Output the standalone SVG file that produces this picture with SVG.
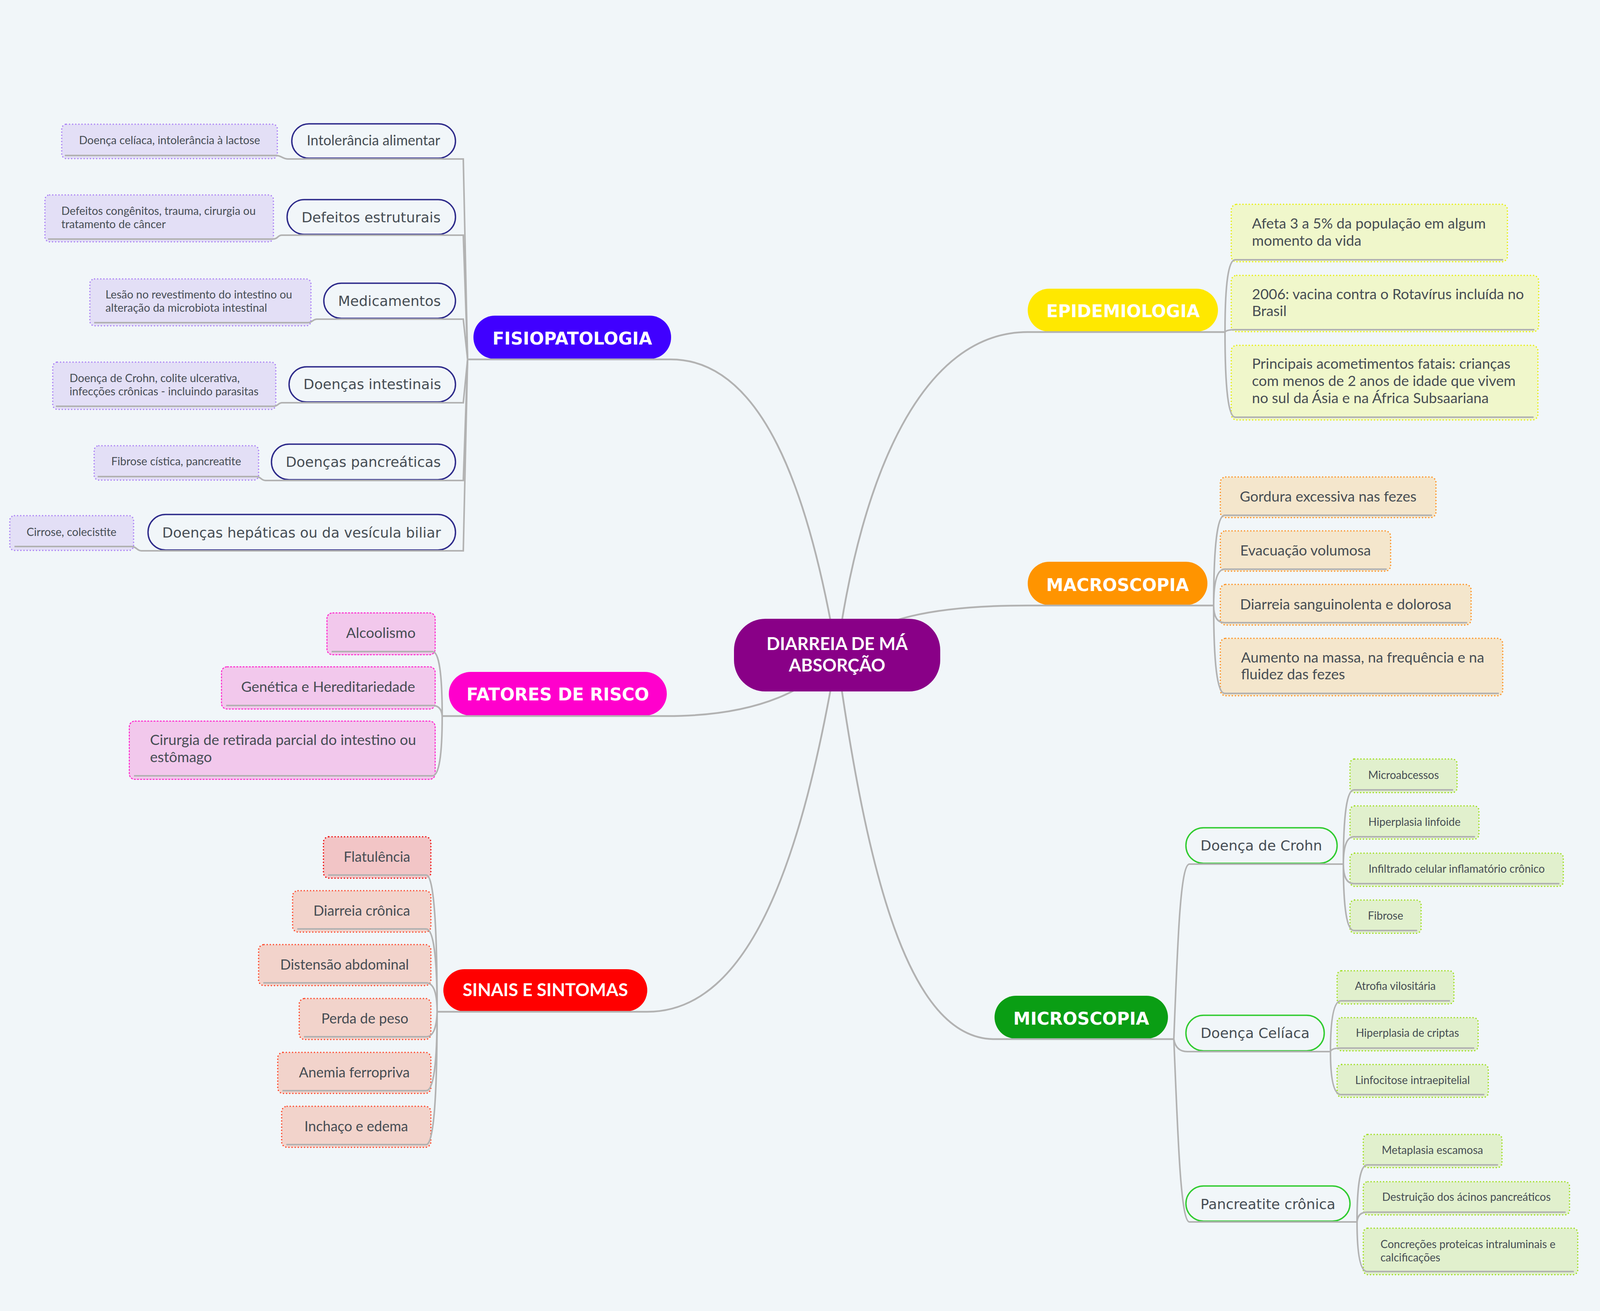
<svg xmlns="http://www.w3.org/2000/svg" width="4288" height="3356" viewBox="0 0 4288 3356">
<style>
.t{font-family:Lato,"Liberation Sans",sans-serif;fill:#464d54}
.dv{font-family:"DejaVu Sans","Liberation Sans",sans-serif;fill:#464d54}
.mt{font-family:"DejaVu Sans","Liberation Sans",sans-serif;font-weight:bold;font-size:44px;fill:#ffffff;text-anchor:middle}
.mt2{font-family:Lato,"Liberation Sans",sans-serif;font-weight:bold;font-size:45px;fill:#ffffff;text-anchor:middle}
.c{text-anchor:middle}
.n27{font-size:28.5px}.n28{font-size:28px}.n36{font-size:36px}.n37{font-size:37px}.n35{font-size:36px}
.fs{fill:#f1f6f9;stroke:#2d2a8a;stroke-width:3.5}
.ms{fill:#f1f6f9;stroke:#2fcb2f;stroke-width:3.5}
.dot{stroke-dasharray:0 8;stroke-linecap:round;stroke-width:3.5}
.note{fill:#e3dff6;stroke:#a77bf5}
.epi{fill:#f0f7cb;stroke:#e6ee00}
.mac{fill:#f4e6cc;stroke:#ff8a14}
.mic{fill:#e1f0cd;stroke:#99dd11}
.sin{fill:#f2d3cb;stroke:#ff3d1f}
.flat{fill:#f2c5c6;stroke:#ee0000}
.fat{fill:#f2c8ec;stroke:#ff22cc;stroke-width:2.5;stroke-dasharray:5 3}
.cn{fill:none;stroke:#b2b2b2;stroke-width:4}
.cm{fill:none;stroke:#b2b2b2;stroke-width:4.5}
</style>
<rect width="4288" height="3356" fill="#f1f6f9"/>

<!-- main topics -->
<g id="fisiopatologia"><rect x="1212" y="808" width="506" height="111" rx="55" fill="#4000ff"/><text class="mt" x="1465" y="882">FISIOPATOLOGIA</text></g>
<g id="epidemiologia"><rect x="2631" y="739" width="487" height="110" rx="55" fill="#ffe800"/><text class="mt" x="2875" y="812">EPIDEMIOLOGIA</text></g>
<g id="macroscopia"><rect x="2631" y="1438" width="460" height="111" rx="55" fill="#ff9400"/><text class="mt" x="2861" y="1513">MACROSCOPIA</text></g>
<g id="microscopia"><rect x="2546" y="2549" width="444" height="110" rx="55" fill="#0a9e14"/><text class="mt" x="2768" y="2623">MICROSCOPIA</text></g>
<g id="sinais"><rect x="1135" y="2481" width="522" height="108" rx="54" fill="#ff0000"/><text class="mt2" x="1396" y="2550">SINAIS E SINTOMAS</text></g>
<g id="fatores"><rect x="1149" y="1720" width="558" height="112" rx="56" fill="#ff00cc"/><text class="mt" x="1428" y="1793">FATORES DE RISCO</text></g>

<!-- fisiopatologia subtopics -->
<g id="f1"><rect class="fs" x="747" y="317" width="419" height="88" rx="44"/><text class="t c n36" x="956" y="372">Intolerância alimentar</text></g>
<g id="f2"><rect class="fs" x="735" y="511" width="431" height="89" rx="44"/><text class="dv c n35" x="950" y="569">Defeitos estruturais</text></g>
<g id="f3"><rect class="fs" x="829" y="725" width="337" height="90" rx="45"/><text class="dv c n35" x="997" y="783">Medicamentos</text></g>
<g id="f4"><rect class="fs" x="740" y="939" width="426" height="90" rx="45"/><text class="dv c n35" x="953" y="996">Doenças intestinais</text></g>
<g id="f5"><rect class="fs" x="695" y="1137" width="471" height="91" rx="45"/><text class="dv c n35" x="930" y="1195">Doenças pancreáticas</text></g>
<g id="f6"><rect class="fs" x="379" y="1317" width="787" height="91" rx="45"/><text class="dv c n35" x="772" y="1376">Doenças hepáticas ou da vesícula biliar</text></g>

<!-- fisiopatologia notes -->
<g id="fn1"><rect class="note dot" x="158" y="318" width="552" height="88" rx="12"/><text class="t c n27" x="434" y="369">Doença celíaca, intolerância à lactose</text></g>
<g id="fn2"><rect class="note dot" x="115" y="499" width="585" height="120" rx="12"/><text class="t n27" x="157" y="550">Defeitos congênitos, trauma, cirurgia ou</text><text class="t n27" x="157" y="584">tratamento de câncer</text></g>
<g id="fn3"><rect class="note dot" x="230" y="714" width="566" height="120" rx="12"/><text class="t n27" x="270" y="764">Lesão no revestimento do intestino ou</text><text class="t n27" x="270" y="798">alteração da microbiota intestinal</text></g>
<g id="fn4"><rect class="note dot" x="135" y="927" width="571" height="121" rx="12"/><text class="t n27" x="178" y="978">Doença de Crohn, colite ulcerativa,</text><text class="t n27" x="178" y="1012">infecções crônicas - incluindo parasitas</text></g>
<g id="fn5"><rect class="note dot" x="241" y="1141" width="421" height="88" rx="12"/><text class="t c n27" x="451" y="1191">Fibrose cística, pancreatite</text></g>
<g id="fn6"><rect class="note dot" x="25" y="1320" width="317" height="89" rx="12"/><text class="t c n27" x="183" y="1372">Cirrose, colecistite</text></g>

<!-- epidemiologia -->
<g id="e1"><rect class="epi dot" x="3152" y="523" width="707" height="147" rx="14"/><text class="t n37" x="3205" y="585">Afeta 3 a 5% da população em algum</text><text class="t n37" x="3205" y="629">momento da vida</text></g>
<g id="e2"><rect class="epi dot" x="3152" y="705" width="787" height="144" rx="14"/><text class="t n37" x="3205" y="766">2006: vacina contra o Rotavírus incluída no</text><text class="t n37" x="3205" y="809">Brasil</text></g>
<g id="e3"><rect class="epi dot" x="3152" y="884" width="785" height="191" rx="14"/><text class="t n37" x="3205" y="944">Principais acometimentos fatais: crianças</text><text class="t n37" x="3205" y="988">com menos de 2 anos de idade que vivem</text><text class="t n37" x="3205" y="1032">no sul da Ásia e na África Subsaariana</text></g>

<!-- macroscopia -->
<g id="m1"><rect class="mac dot" x="3124" y="1221" width="552" height="104" rx="14"/><text class="t c n37" x="3400" y="1284">Gordura excessiva nas fezes</text></g>
<g id="m2"><rect class="mac dot" x="3124" y="1359" width="436" height="103" rx="14"/><text class="t c n37" x="3342" y="1422">Evacuação volumosa</text></g>
<g id="m3"><rect class="mac dot" x="3124" y="1496" width="642" height="104" rx="14"/><text class="t c n37" x="3445" y="1560">Diarreia sanguinolenta e dolorosa</text></g>
<g id="m4"><rect class="mac dot" x="3124" y="1634" width="723" height="147" rx="14"/><text class="t n37" x="3177" y="1696">Aumento na massa, na frequência e na</text><text class="t n37" x="3177" y="1739">fluidez das fezes</text></g>

<!-- microscopia subtopics -->
<g id="mc1"><rect class="ms" x="3036" y="2119" width="387" height="91" rx="45"/><text class="dv c n35" x="3229" y="2177">Doença de Crohn</text></g>
<g id="mc2"><rect class="ms" x="3036" y="2599" width="354" height="91" rx="45"/><text class="dv c n35" x="3213" y="2657">Doença Celíaca</text></g>
<g id="mc3"><rect class="ms" x="3036" y="3036" width="420" height="90" rx="45"/><text class="dv c n35" x="3246" y="3095">Pancreatite crônica</text></g>

<!-- microscopia leaves -->
<g id="cr1"><rect class="mic dot" x="3456" y="1943" width="274" height="86" rx="12"/><text class="t c n28" x="3593" y="1994">Microabcessos</text></g>
<g id="cr2"><rect class="mic dot" x="3456" y="2063" width="330" height="85" rx="12"/><text class="t c n28" x="3621" y="2114">Hiperplasia linfoide</text></g>
<g id="cr3"><rect class="mic dot" x="3456" y="2184" width="546" height="85" rx="12"/><text class="t c n28" x="3729" y="2234">Infiltrado celular inflamatório crônico</text></g>
<g id="cr4"><rect class="mic dot" x="3456" y="2304" width="182" height="85" rx="12"/><text class="t c n28" x="3547" y="2354">Fibrose</text></g>
<g id="ce1"><rect class="mic dot" x="3423" y="2485" width="299" height="85" rx="12"/><text class="t c n28" x="3572" y="2534">Atrofia vilositária</text></g>
<g id="ce2"><rect class="mic dot" x="3423" y="2605" width="361" height="85" rx="12"/><text class="t c n28" x="3603" y="2654">Hiperplasia de criptas</text></g>
<g id="ce3"><rect class="mic dot" x="3423" y="2725" width="387" height="84" rx="12"/><text class="t c n28" x="3616" y="2775">Linfocitose intraepitelial</text></g>
<g id="pc1"><rect class="mic dot" x="3490" y="2904" width="355" height="85" rx="12"/><text class="t c n28" x="3667" y="2954">Metaplasia escamosa</text></g>
<g id="pc2"><rect class="mic dot" x="3490" y="3025" width="528" height="85" rx="12"/><text class="t c n28" x="3754" y="3074">Destruição dos ácinos pancreáticos</text></g>
<g id="pc3"><rect class="mic dot" x="3490" y="3144" width="549" height="119" rx="12"/><text class="t n28" x="3534" y="3195">Concreções proteicas intraluminais e</text><text class="t n28" x="3534" y="3229">calcificações</text></g>

<!-- sinais e sintomas leaves -->
<g id="s1"><rect class="flat dot" x="828" y="2142" width="275" height="106" rx="14"/><text class="t c n36" x="965" y="2206">Flatulência</text></g>
<g id="s2"><rect class="sin dot" x="749" y="2280" width="354" height="106" rx="14"/><text class="t c n36" x="926" y="2344">Diarreia crônica</text></g>
<g id="s3"><rect class="sin dot" x="662" y="2418" width="441" height="105" rx="14"/><text class="t c n36" x="882" y="2482">Distensão abdominal</text></g>
<g id="s4"><rect class="sin dot" x="766" y="2556" width="337" height="105" rx="14"/><text class="t c n36" x="934" y="2620">Perda de peso</text></g>
<g id="s5"><rect class="sin dot" x="711" y="2694" width="392" height="105" rx="14"/><text class="t c n36" x="907" y="2758">Anemia ferropriva</text></g>
<g id="s6"><rect class="sin dot" x="721" y="2832" width="382" height="105" rx="14"/><text class="t c n36" x="912" y="2896">Inchaço e edema</text></g>

<!-- fatores de risco leaves -->
<g id="r1"><rect class="fat" x="837" y="1569" width="277" height="107" rx="14"/><text class="t c n37" x="975" y="1633">Alcoolismo</text></g>
<g id="r2"><rect class="fat" x="567" y="1707" width="547" height="108" rx="14"/><text class="t c n37" x="840" y="1771">Genética e Hereditariedade</text></g>
<g id="r3"><rect class="fat" x="331" y="1846" width="783" height="149" rx="14"/><text class="t n37" x="384" y="1907">Cirurgia de retirada parcial do intestino ou</text><text class="t n37" x="384" y="1951">estômago</text></g>

<!-- connectors -->
<g id="connectors">
<path class="cm" d="M2142 1677 C2070 1250 1950 920 1717 920 L1197 920"/>
<path class="cm" d="M2142 1677 C2205 1211 2362 850 2631 850 L3136 850"/>
<path class="cm" d="M2142 1677 C2230 1580 2400 1550 2631 1550 L3107 1550"/>
<path class="cm" d="M2142 1677 C2219 2230 2324 2660 2546 2660 L3005 2660"/>
<path class="cm" d="M2142 1677 C2055 2190 1924 2590 1657 2590 L1119 2590"/>
<path class="cm" d="M2142 1677 C2080 1760 1950 1833 1707 1833 L1132 1833"/>

<path class="cn" d="M1197 920 L1186 407 L738 407 C722 407 722 398 706 398 L166 398"/>
<path class="cn" d="M1197 920 L1186 602 L722 602 C710 602 712 612 698 612 L123 612"/>
<path class="cn" d="M1197 920 L1186 817 L812 817 C800 817 800 826 788 826 L241 826"/>
<path class="cn" d="M1197 920 L1186 1031 L722 1031 C712 1031 712 1040 700 1040 L143 1040"/>
<path class="cn" d="M1197 920 L1186 1230 L680 1230 C668 1230 668 1220 656 1220 L250 1220"/>
<path class="cn" d="M1197 920 L1186 1410 L362 1410 C350 1410 350 1399 336 1399 L37 1399"/>

<path class="cn" d="M3136 850 Q3136 665 3162 665 L3848 665"/>
<path class="cn" d="M3136 850 Q3140 844 3162 844 L3928 844"/>
<path class="cn" d="M3136 850 Q3136 1068 3162 1068 L3926 1068"/>

<path class="cn" d="M3107 1550 Q3107 1319 3135 1319 L3666 1319"/>
<path class="cn" d="M3107 1550 Q3107 1457 3135 1457 L3550 1457"/>
<path class="cn" d="M3107 1550 Q3107 1594 3135 1594 L3756 1594"/>
<path class="cn" d="M3107 1550 Q3107 1775 3135 1775 L3837 1775"/>

<path class="cn" d="M3005 2660 C3015 2400 3022 2212 3045 2212 L3439 2212"/>
<path class="cn" d="M3005 2660 Q3010 2692 3040 2692 L3406 2692"/>
<path class="cn" d="M3005 2660 C3015 2900 3022 3128 3045 3128 L3474 3128"/>

<path class="cn" d="M3439 2212 Q3439 2022 3466 2022 L3720 2022"/>
<path class="cn" d="M3439 2212 Q3439 2142 3466 2142 L3776 2142"/>
<path class="cn" d="M3439 2212 Q3439 2262 3466 2262 L3992 2262"/>
<path class="cn" d="M3439 2212 Q3439 2382 3466 2382 L3628 2382"/>

<path class="cn" d="M3406 2692 Q3406 2562 3433 2562 L3712 2562"/>
<path class="cn" d="M3406 2692 Q3408 2683 3433 2683 L3774 2683"/>
<path class="cn" d="M3406 2692 Q3406 2802 3433 2802 L3800 2802"/>

<path class="cn" d="M3474 3128 Q3474 2982 3500 2982 L3835 2982"/>
<path class="cn" d="M3474 3128 Q3476 3103 3500 3103 L4008 3103"/>
<path class="cn" d="M3474 3128 Q3474 3255 3500 3255 L4029 3255"/>

<path class="cn" d="M1119 2590 Q1119 2240 1091 2240 L840 2240"/>
<path class="cn" d="M1119 2590 Q1119 2378 1091 2378 L761 2378"/>
<path class="cn" d="M1119 2590 Q1119 2516 1091 2516 L674 2516"/>
<path class="cn" d="M1119 2590 Q1117 2654 1091 2654 L778 2654"/>
<path class="cn" d="M1119 2590 Q1119 2792 1091 2792 L723 2792"/>
<path class="cn" d="M1119 2590 Q1119 2930 1091 2930 L733 2930"/>

<path class="cn" d="M1132 1833 Q1132 1668 1107 1668 L849 1668"/>
<path class="cn" d="M1132 1833 Q1130 1806 1107 1806 L579 1806"/>
<path class="cn" d="M1132 1833 Q1132 1986 1107 1986 L343 1986"/>
</g>

<g id="central"><rect x="1879" y="1584" width="528" height="186" rx="80" fill="#890087"/><text class="mt2" x="2143" y="1664">DIARREIA DE MÁ</text><text class="mt2" x="2143" y="1719">ABSORÇÃO</text></g>
</svg>
